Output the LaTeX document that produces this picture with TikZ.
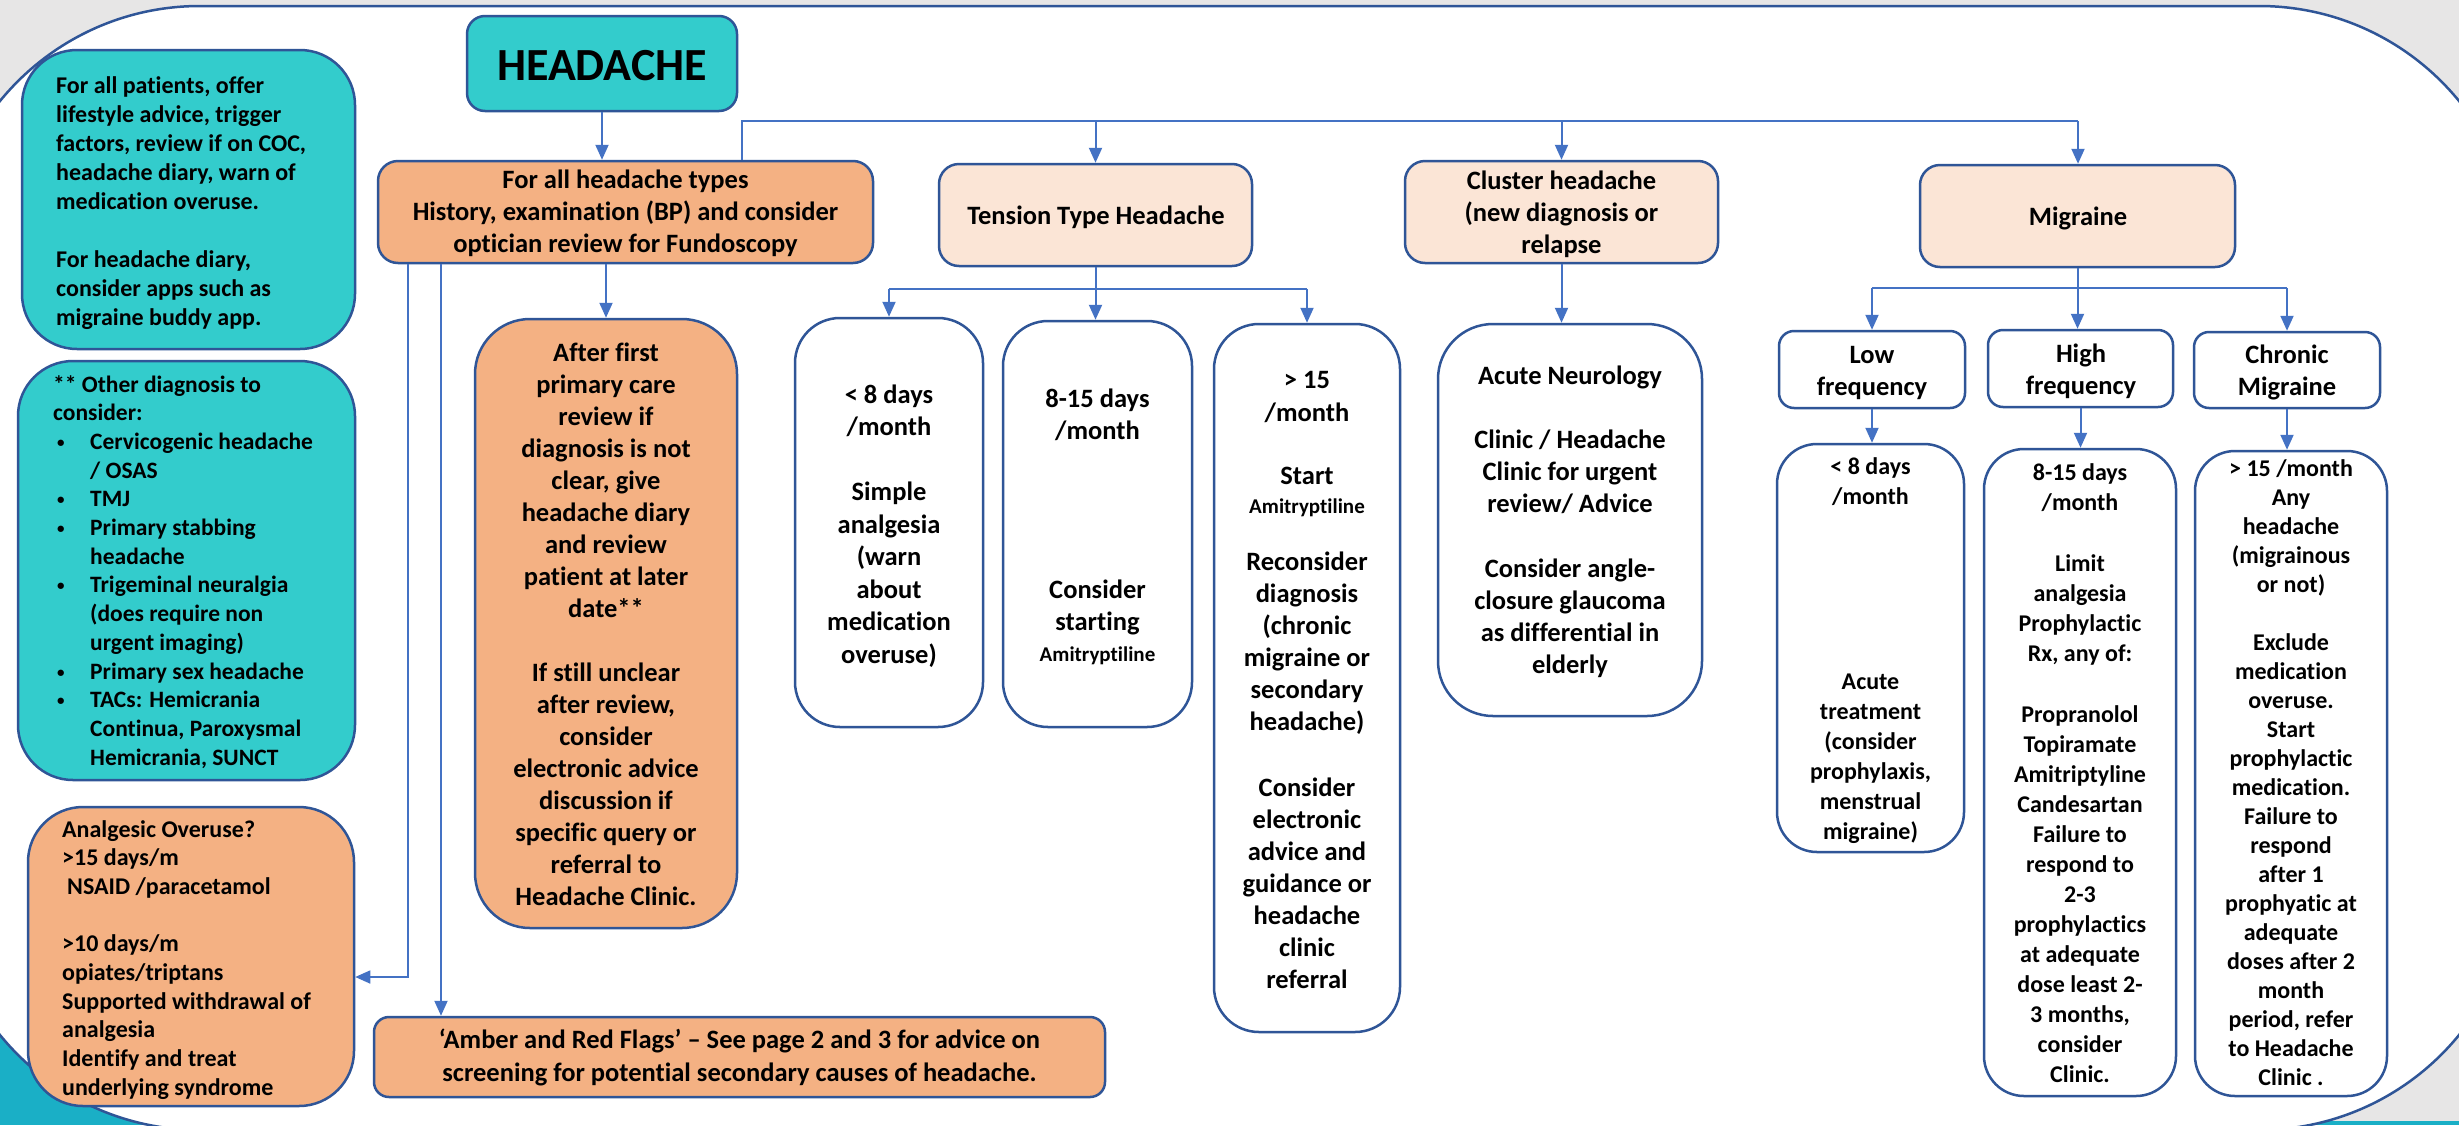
\documentclass[tikz,border=0pt]{standalone}
\usepackage{fontspec}
\setmainfont{Carlito}[Ligatures=NoCommon]
\usetikzlibrary{arrows.meta}
\definecolor{tealbox}{HTML}{33CCCC}
\definecolor{orangebox}{HTML}{F4B183}
\definecolor{peach}{HTML}{FBE5D6}
\definecolor{bordc}{HTML}{2F5597}
\definecolor{linec}{HTML}{4472C4}
\definecolor{bggray}{HTML}{E7E6E6}
\definecolor{cornerteal}{HTML}{1AAFC6}
\newcommand\mytc[3]{\parbox[t]{800pt}{\centering\fontsize{#1}{#2}\selectfont #3}}
\newcommand\mytl[3]{\parbox[t]{420pt}{\raggedright\fontsize{#1}{#2}\selectfont #3}}
\newcommand\mybul{\makebox[37pt][l]{\hspace{4pt}\raisebox{2pt}{\fontsize{15pt}{15pt}\selectfont •}}}
\newcommand\myind{\hspace*{37pt}}
\newcommand\smallami{{\fontsize{21pt}{32pt}\selectfont Amitryptiline}}
\begin{document}
\begin{tikzpicture}[x=1pt,y=-1pt,
  box/.style={draw=bordc, line width=2.5pt, inner sep=0pt},
  txt/.style={inner sep=0pt, font=\bfseries, anchor=base},
  txtl/.style={inner sep=0pt, font=\bfseries, anchor=base west},
  conn/.style={draw=linec, line width=2pt},
  thinconn/.style={draw=linec, line width=1.6pt},
  arr/.style={conn, -{Triangle[length=15pt,width=13pt]}},
  thinarr/.style={thinconn, -{Triangle[length=15pt,width=13pt]}}]

\useasboundingbox (0,0) rectangle (2459,1125);
\clip (0,0) rectangle (2459,1125);
% background
\fill[bggray] (0,0) rectangle (2459,1125);
\fill[cornerteal] (0,900) rectangle (300,1125);
\fill[cornerteal] (2200,1121) rectangle (2459,1125);
\draw[draw=bordc, line width=2.5pt, fill=white, rounded corners=258pt] (-58,6) rectangle (2517,1130);

% ---------- boxes ----------
\node[box, fill=tealbox, minimum width=270pt, minimum height=95pt, rounded corners=18pt] (headache) at (602,63.5) {};
\node[box, fill=tealbox, minimum width=333pt, minimum height=299pt, rounded corners=55pt] (teal1) at (188.5,199.5) {};
\node[box, fill=tealbox, minimum width=337pt, minimum height=419pt, rounded corners=55pt] (teal2) at (186.5,570.5) {};
\node[box, fill=orangebox, minimum width=326pt, minimum height=299pt, rounded corners=55pt] (analg) at (191,956.5) {};
\node[box, fill=orangebox, minimum width=495pt, minimum height=102pt, rounded corners=20pt] (forall) at (625.5,212) {};
\node[box, fill=orangebox, minimum width=262pt, minimum height=609pt, rounded corners=55pt] (after) at (606,623.5) {};
\node[box, fill=orangebox, minimum width=731pt, minimum height=80pt, rounded corners=15pt] (amber) at (739.5,1057) {};
\node[box, fill=peach, minimum width=313pt, minimum height=102pt, rounded corners=20pt] (tension) at (1095.5,215) {};
\node[box, fill=peach, minimum width=313pt, minimum height=102pt, rounded corners=20pt] (cluster) at (1561.5,212) {};
\node[box, fill=peach, minimum width=315pt, minimum height=102pt, rounded corners=20pt] (migraine) at (2077.5,216) {};
\node[box, fill=white, minimum width=188pt, minimum height=409pt, rounded corners=45pt] (tt1) at (889,522.5) {};
\node[box, fill=white, minimum width=189pt, minimum height=406pt, rounded corners=45pt] (tt2) at (1097.5,524) {};
\node[box, fill=white, minimum width=186pt, minimum height=708pt, rounded corners=45pt] (tt3) at (1307,678) {};
\node[box, fill=white, minimum width=264pt, minimum height=392pt, rounded corners=55pt] (acute) at (1570,520) {};
\node[box, fill=white, minimum width=186pt, minimum height=77pt, rounded corners=15pt] (low) at (1872,369.5) {};
\node[box, fill=white, minimum width=185pt, minimum height=77pt, rounded corners=15pt] (high) at (2080.5,368.5) {};
\node[box, fill=white, minimum width=186pt, minimum height=76pt, rounded corners=15pt] (chronic) at (2287,370) {};
\node[box, fill=white, minimum width=187pt, minimum height=408pt, rounded corners=40pt] (m1) at (1870.5,648) {};
\node[box, fill=white, minimum width=192pt, minimum height=647pt, rounded corners=40pt] (m2) at (2080,772.5) {};
\node[box, fill=white, minimum width=192pt, minimum height=645pt, rounded corners=40pt] (m3) at (2291,773.5) {};

% ---------- texts ----------
\node[txt] (headache-t) at (602,80) {\mytc{46pt}{50pt}{HEADACHE}};
\node[txtl] (teal1-t) at (56,93) {\mytl{24pt}{29pt}{For all patients, offer\\lifestyle advice, trigger\\factors, review if on COC,\\headache diary, warn of\\medication overuse.\\[29pt]For headache diary,\\consider apps such as\\migraine buddy app.}};
\node[txtl] (teal2-t) at (53,392) {\mytl{23.5pt}{28.7pt}{** Other diagnosis to\\consider:\\\mybul Cervicogenic headache\\\myind / OSAS\\\mybul TMJ\\\mybul Primary stabbing\\\myind headache\\\mybul Trigeminal neuralgia\\\myind (does require non\\\myind urgent imaging)\\\mybul Primary sex headache\\\mybul TACs: Hemicrania\\\myind Continua, Paroxysmal\\\myind Hemicrania, SUNCT}};
\node[txtl] (analg-t) at (62,837) {\mytl{24pt}{28.7pt}{Analgesic Overuse?\\>15 days/m\\\hspace*{5pt}NSAID /paracetamol\\[28.7pt]>10 days/m\\opiates/triptans\\Supported withdrawal of\\analgesia\\Identify and treat\\underlying syndrome}};
\node[txt] (forall-t) at (625.5,188) {\mytc{26.5pt}{32pt}{For all headache types\\History, examination (BP) and consider\\optician review for Fundoscopy}};
\node[txt] (after-t) at (606,361) {\mytc{26.5pt}{32pt}{After first\\primary care\\review if\\diagnosis is not\\clear, give\\headache diary\\and review\\patient at later\\date**\\[32pt]If still unclear\\after review,\\consider\\electronic advice\\discussion if\\specific query or\\referral to\\Headache Clinic.}};
\node[txt] (amber-t) at (739.5,1048) {\mytc{26.5pt}{33pt}{‘Amber and Red Flags’ – See page 2 and 3 for advice on\\screening for potential secondary causes of headache.}};
\node[txt] (tension-t) at (1096,224) {\mytc{26.5pt}{32pt}{Tension Type Headache}};
\node[txt] (cluster-t) at (1561.5,189) {\mytc{26.5pt}{32pt}{Cluster headache\\(new diagnosis or\\relapse}};
\node[txt] (migraine-t) at (2078,225) {\mytc{26.5pt}{32pt}{Migraine}};
\node[txt] (tt1-t) at (889,403) {\mytc{26.5pt}{32.5pt}{< 8 days\\/month\\[32.5pt]Simple\\analgesia\\(warn\\about\\medication\\overuse)}};
\node[txt] (tt2-t) at (1097.5,407) {\mytc{26.5pt}{32pt}{8-15 days\\/month\\[127pt]Consider\\starting\\[-1pt]\smallami}};
\node[txt] (tt3-t) at (1307,388) {\mytc{26.5pt}{32pt}{> 15\\[1pt]/month\\[31pt]Start\\[-3pt]\smallami\\[25pt]Reconsider\\diagnosis\\(chronic\\migraine or\\secondary\\headache)\\[34pt]Consider\\electronic\\advice and\\guidance or\\headache\\clinic\\referral}};
\node[txt] (acute-t) at (1570,384) {\mytc{26.5pt}{32pt}{Acute Neurology\\[32pt]Clinic / Headache\\Clinic for urgent\\review/ Advice\\[33pt]Consider angle-\\closure glaucoma\\as differential in\\elderly}};
\node[txt] (low-t) at (1872,363) {\mytc{26.5pt}{32pt}{Low\\frequency}};
\node[txt] (high-t) at (2081,362) {\mytc{26.5pt}{32pt}{High\\frequency}};
\node[txt] (chronic-t) at (2287,363) {\mytc{26.5pt}{32pt}{Chronic\\Migraine}};
\node[txt] (m1-t) at (1870.5,474) {\mytc{24pt}{30pt}{< 8 days\\/month\\[155pt]Acute\\treatment\\(consider\\prophylaxis,\\menstrual\\migraine)}};
\node[txt] (m2-t) at (2080,480) {\mytc{24pt}{30pt}{8-15 days\\/month\\[31pt]Limit\\analgesia\\Prophylactic\\Rx, any of:\\[31pt]Propranolol\\Topiramate\\Amitriptyline\\Candesartan\\Failure to\\respond to\\2-3\\prophylactics\\at adequate\\dose least 2-\\3 months,\\consider\\Clinic.}};
\node[txt] (m3-t) at (2291,476) {\mytc{24pt}{29pt}{> 15 /month\\Any\\headache\\(migrainous\\or not)\\[29pt]Exclude\\medication\\overuse.\\Start\\prophylactic\\medication.\\Failure to\\respond\\after 1\\prophyatic at\\adequate\\doses after 2\\month\\period, refer\\to Headache\\Clinic .}};

% ---------- connectors ----------
\draw[arr] (headache.south) -- (headache.south |- forall.north);
\draw[arr] (forall.south -| after.north) -- (after.north);
\coordinate (busL) at (742,121);
\coordinate (busR) at (2078,121);
\draw[thinconn] (forall.north -| busL) -- (busL) -- (busR);
\draw[arr] (busL -| tension.north) -- (tension.north);
\draw[arr] (busL -| cluster.north) -- (cluster.north);
\draw[arr] (busR) -- (busR |- migraine.north);
% tension branch
\coordinate (ttb) at (1000,289);
\draw[arr] (tension.south) -- (tension.south |- tt2.north);
\draw[thinconn] (ttb -| tt1.north) -- (ttb -| tt3.north);
\draw[arr] (ttb -| tt1.north) -- (tt1.north);
\draw[arr] (ttb -| tt3.north) -- (tt3.north);
% cluster
\draw[arr] (cluster.south) -- (cluster.south |- acute.north);
% migraine branch
\coordinate (mgb) at (2000,288);
\draw[arr] (migraine.south) -- (migraine.south |- high.north);
\draw[thinconn] (mgb -| low.north) -- (mgb -| chronic.north);
\draw[arr] (mgb -| low.north) -- (low.north);
\draw[arr] (mgb -| chronic.north) -- (chronic.north);
\draw[arr] (low.south) -- (low.south |- m1.north);
\draw[arr] (high.south) -- (high.south |- m2.north);
\draw[arr] (chronic.south) -- (chronic.south |- m3.north);
% left lines
\coordinate (jA) at (408,977);
\coordinate (jB) at (441,600);
\draw[thinarr] (forall.south -| jA) -- (jA) -- (jA -| analg.east);
\draw[arr] (forall.south -| jB) -- (jB |- amber.north);
\end{tikzpicture}
\end{document}
